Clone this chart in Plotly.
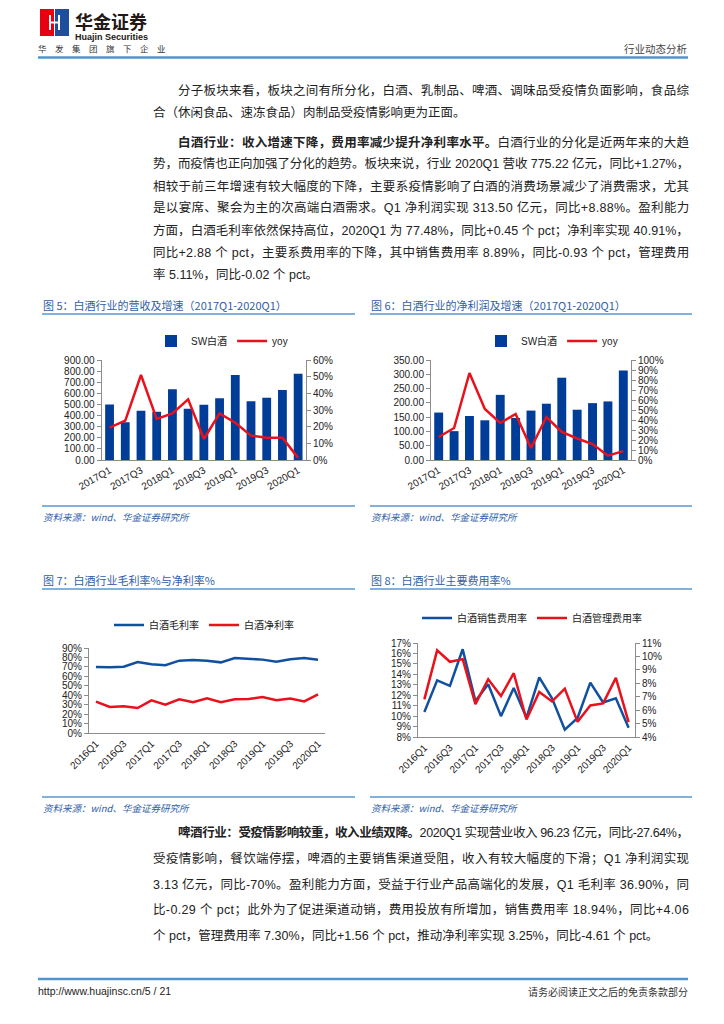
import re
import plotly.graph_objects as go

PAGE_W, PAGE_H = 724, 1024
OFF = 8                      # default body margin of the html page
W, H = PAGE_W - OFF, PAGE_H - OFF

# ---------------- data ----------------
quarters_17_20 = ["2017Q1", "2017Q2", "2017Q3", "2017Q4", "2018Q1", "2018Q2", "2018Q3",
                  "2018Q4", "2019Q1", "2019Q2", "2019Q3", "2019Q4", "2020Q1"]
revenue = [500, 340, 444, 435, 636, 462, 498, 555, 766, 528, 561, 630, 775.22]
revenue_yoy = [19.4, 23.6, 51.0, 24.6, 28.0, 36.4, 12.6, 28.0, 22.4, 14.6, 13.4, 13.4, 1.27]
profit = [166, 101, 154, 139, 228, 147, 173, 197, 288, 176, 199, 205, 313.5]
profit_yoy = [23, 32, 87, 51, 37, 46, 12, 43, 28, 21.5, 16, 4.3, 8.88]

quarters_16_20 = ["2016Q1", "2016Q2", "2016Q3", "2016Q4", "2017Q1", "2017Q2", "2017Q3", "2017Q4",
                  "2018Q1", "2018Q2", "2018Q3", "2018Q4", "2019Q1", "2019Q2", "2019Q3", "2019Q4",
                  "2020Q1"]
gross_margin = [69.9, 69.5, 70.2, 75.2, 72.7, 71.7, 76.6, 77.3, 76.6, 74.8, 79.4, 78.7, 77.7,
                75.5, 78.0, 79.4, 77.48]
net_margin = [33.2, 27.5, 28.2, 26.5, 34.6, 30.0, 35.7, 32.5, 36.7, 32.5, 35.7, 36.0, 38.0,
              34.6, 36.4, 33.5, 40.91]
sales_exp = [10.4, 13.43, 12.9, 16.4, 11.45, 13.05, 10.0, 12.7, 9.85, 13.7, 11.7, 8.7, 9.82,
             13.2, 11.3, 11.7, 8.89]
admin_exp = [6.8, 10.45, 9.6, 9.8, 6.45, 8.3, 7.05, 8.75, 5.3, 7.35, 6.65, 7.6, 5.13,
             6.35, 6.5, 8.4, 5.11]

para1 = [
    "分子板块来看，板块之间有所分化，白酒、乳制品、啤酒、调味品受疫情负面影响，食品综",
    "合（休闲食品、速冻食品）肉制品受疫情影响更为正面。",
]
para2 = [
    "<b>白酒行业：收入增速下降，费用率减少提升净利率水平。</b>白酒行业的分化是近两年来的大趋",
    "势，而疫情也正向加强了分化的趋势。板块来说，行业 2020Q1 营收 775.22 亿元，同比+1.27%，",
    "相较于前三年增速有较大幅度的下降，主要系疫情影响了白酒的消费场景减少了消费需求，尤其",
    "是以宴席、聚会为主的次高端白酒需求。Q1 净利润实现 313.50 亿元，同比+8.88%。盈利能力",
    "方面，白酒毛利率依然保持高位，2020Q1 为 77.48%，同比+0.45 个 pct；净利率实现 40.91%，",
    "同比+2.88 个 pct，主要系费用率的下降，其中销售费用率 8.89%，同比-0.93 个 pct，管理费用",
    "率 5.11%，同比-0.02 个 pct。",
]
para3 = [
    "<b>啤酒行业：受疫情影响较重，收入业绩双降。</b>2020Q1 实现营业收入 96.23 亿元，同比-27.64%，",
    "受疫情影响，餐饮端停摆，啤酒的主要销售渠道受阻，收入有较大幅度的下滑；Q1 净利润实现",
    "3.13 亿元，同比-70%。盈利能力方面，受益于行业产品高端化的发展，Q1 毛利率 36.90%，同",
    "比-0.29 个 pct；此外为了促进渠道动销，费用投放有所增加，销售费用率 18.94%，同比+4.06",
    "个 pct，管理费用率 7.30%，同比+1.56 个 pct，推动净利率实现 3.25%，同比-4.61 个 pct。",
]

titles = ["图 5：白酒行业的营收及增速（2017Q1-2020Q1）", "图 6：白酒行业的净利润及增速（2017Q1-2020Q1）",
          "图 7：白酒行业毛利率%与净利率%", "图 8：白酒行业主要费用率%"]
source = "资料来源：wind、华金证券研究所"

# ---------------- style ----------------
FONT = "Liberation Sans, Arial, Noto Sans CJK SC, sans-serif"
CJK = "Noto Sans CJK SC, Liberation Sans, sans-serif"
BAR = "#003d99"
RED = "#e8111c"
BLUE = "#1150a0"
AX = "#8c8c8c"
TITLE_C = "#2f5ea8"
RULE_C = "#7fb2de"
BODY_SIZE = 12.5


def X(p):
    return (p - OFF) / W


def Y(p):
    return 1 - (p - OFF) / H


fig = go.Figure()

# chart 5
fig.add_trace(go.Bar(x=quarters_17_20, y=revenue, name="SW白酒", marker_color=BAR, width=0.56,
                     xaxis="x", yaxis="y", legend="legend"))
fig.add_trace(go.Scatter(x=quarters_17_20, y=revenue_yoy, name="yoy", mode="lines",
                         line=dict(color=RED, width=2.5), xaxis="x", yaxis="y2", legend="legend"))
# chart 6
fig.add_trace(go.Bar(x=quarters_17_20, y=profit, name="SW白酒", marker_color=BAR, width=0.58,
                     xaxis="x2", yaxis="y3", legend="legend2"))
fig.add_trace(go.Scatter(x=quarters_17_20, y=profit_yoy, name="yoy", mode="lines",
                         line=dict(color=RED, width=2.5), xaxis="x2", yaxis="y4", legend="legend2"))
# chart 7
fig.add_trace(go.Scatter(x=quarters_16_20, y=gross_margin, name="白酒毛利率", mode="lines",
                         line=dict(color=BLUE, width=2.5), xaxis="x3", yaxis="y5", legend="legend3"))
fig.add_trace(go.Scatter(x=quarters_16_20, y=net_margin, name="白酒净利率", mode="lines",
                         line=dict(color=RED, width=2.5), xaxis="x3", yaxis="y5", legend="legend3"))
# chart 8
fig.add_trace(go.Scatter(x=quarters_16_20, y=sales_exp, name="白酒销售费用率", mode="lines",
                         line=dict(color=BLUE, width=2.5), xaxis="x4", yaxis="y6", legend="legend4"))
fig.add_trace(go.Scatter(x=quarters_16_20, y=admin_exp, name="白酒管理费用率", mode="lines",
                         line=dict(color=RED, width=2.5), xaxis="x4", yaxis="y7", legend="legend4"))

tickfont = dict(family=FONT, size=10, color="#222")


def xax(dom, anchor, cats, angle):
    return dict(domain=[X(dom[0]), X(dom[1])], anchor=anchor, type="category",
                categoryorder="array", categoryarray=cats, automargin=False,
                tickvals=cats[::2], tickangle=angle, range=[-0.5, len(cats) - 0.5],
                showline=True, linecolor=AX, linewidth=1, ticks="", showgrid=False,
                zeroline=False, tickfont=tickfont, fixedrange=True)


def yax(dom, anchor, rng, dtick, fmt=None, suffix=None):
    d = dict(anchor=anchor, range=rng, dtick=dtick, showline=True, linecolor=AX, linewidth=1,
             ticks="outside", ticklen=4, tickcolor=AX, showgrid=False, zeroline=False,
             tickfont=tickfont, fixedrange=True, automargin=False)
    if dom is not None:
        d["domain"] = [Y(dom[1]), Y(dom[0])]
    if fmt:
        d["tickformat"] = fmt
    if suffix:
        d["ticksuffix"] = suffix
    return d


def legend(xc, yc):
    return dict(orientation="h", x=X(xc), y=Y(yc), xanchor="center", yanchor="middle",
                font=dict(family=FONT, size=10, color="#222"), bgcolor="rgba(0,0,0,0)",
                itemwidth=30, tracegroupgap=0, traceorder="normal")


y2 = yax(None, "x", [0, 60], 10, suffix="%")
y2.update(overlaying="y", side="right")
y4 = yax(None, "x2", [0, 100], 10, suffix="%")
y4.update(overlaying="y3", side="right")
y7 = yax(None, "x4", [4, 11], 1, suffix="%")
y7.update(overlaying="y6", side="right")

fig.update_layout(
    template="none",
    width=W, height=H, margin=dict(l=0, r=0, t=0, b=0, pad=0, autoexpand=False),
    paper_bgcolor="white", plot_bgcolor="white", bargap=0.4, hovermode=False,
    font=dict(family=FONT, color="#222"),
    xaxis=xax((101.7, 306), "y", quarters_17_20, -30),
    yaxis=yax((360, 460), "x", [0, 900], 100, fmt=".2f"),
    yaxis2=y2,
    xaxis2=xax((431, 631), "y3", quarters_17_20, -30),
    yaxis3=yax((360, 460), "x2", [0, 350], 50, fmt=".2f"),
    yaxis4=y4,
    xaxis3=xax((89, 325), "y5", quarters_16_20, -45),
    yaxis5=yax((648, 733), "x3", [0, 90], 10, suffix="%"),
    xaxis4=xax((418, 635), "y6", quarters_16_20, -45),
    yaxis6=yax((643, 737), "x4", [8, 17], 1, suffix="%"),
    yaxis7=y7,
    legend=legend(222, 341),
    legend2=legend(552, 341),
    legend3=legend(204, 625),
    legend4=legend(532, 618),
)

shapes = []
annotations = []


def text(x, y, s, size=12.8, color="#333", family=CJK, anchor="left", **kw):
    annotations.append(dict(x=X(x), y=Y(y), xref="paper", yref="paper", text=s, showarrow=False,
                            xanchor=anchor, yanchor="middle", borderpad=0, borderwidth=0,
                            font=dict(size=size, color=color, family=family), **kw))


def hline(x0, x1, y, color, width):
    shapes.append(dict(type="line", xref="paper", yref="paper", x0=X(x0), x1=X(x1), y0=Y(y),
                       y1=Y(y), line=dict(color=color, width=width)))


def rect(x0, y0, x1, y1, color):
    shapes.append(dict(type="rect", xref="paper", yref="paper", x0=X(x0), x1=X(x1), y0=Y(y1),
                       y1=Y(y0), line=dict(width=0), fillcolor=color))


# approximate advance widths (em) for Liberation Sans; CJK glyphs are 1em
ASCII_W = {c: 0.556 for c in "0123456789"}
ASCII_W.update({".": 0.278, ",": 0.278, " ": 0.278, "%": 0.889, "Q": 0.778, "p": 0.556,
                "c": 0.5, "t": 0.278, "+": 0.584, "-": 0.333})


def est_width(s, size):
    plain = re.sub(r"<[^>]+>", "", s)
    return sum(ASCII_W.get(ch, 0.556) if ord(ch) < 128 else 1.0 for ch in plain) * size, len(plain)


def justified(line, x_left, x_right, size, justify):
    ls = 0.0
    if justify:
        w, n = est_width(line, size)
        ls = (x_right - x_left - w) / max(n - 1, 1)
    out = []
    for seg in re.split(r"(<b>.*?</b>)", line):
        if not seg:
            continue
        if seg.startswith("<b>"):
            out.append('<span style="font-weight:bold;letter-spacing:%.2fpx">%s</span>'
                       % (ls, seg[3:-4]))
        else:
            out.append('<span style="letter-spacing:%.2fpx">%s</span>' % (ls, seg))
    return "".join(out)


# ---------------- header ----------------
rect(40, 9, 54, 36, "#e60012")
rect(55, 9, 69, 36, "#1d4f9c")
rect(49, 15, 51, 30, "white")
rect(58, 15, 60, 30, "white")
rect(49, 21.5, 60, 23.5, "white")
text(75, 21, "<b>华金证券</b>", size=18, color="#231815")
text(75, 37, "<b>Huajin Securities</b>", size=9, color="#231815", family=FONT)
text(38, 48, "华\u3000发\u3000集\u3000团\u3000旗\u3000下\u3000企\u3000业", size=8.5, color="#333")
text(688, 48, "行业动态分析", size=10.5, color="#444", anchor="right")
hline(38, 688, 57.5, "#4f95d0", 2.5)

# ---------------- body text ----------------
RIGHT = 689
ys1 = [91, 112]
ys2 = [142, 164, 186, 208, 230, 252, 274]
ys3 = [832, 858, 884, 909, 935]
for para, ys in ((para1, ys1), (para2, ys2), (para3, ys3)):
    for i, (line, yy) in enumerate(zip(para, ys)):
        xl = 178 if i == 0 else 153
        last = i == len(para) - 1
        text(xl, yy, justified(line, xl, RIGHT, BODY_SIZE, not last),
             size=BODY_SIZE, color="#222", family=FONT)

# ---------------- chart titles / sources ----------------
for (x0, x1), yt, t in (((42, 355), 305, titles[0]), ((370, 692), 305, titles[1]),
                        ((42, 355), 580, titles[2]), ((370, 692), 580, titles[3])):
    text(x0 + 1, yt, t, size=11, color=TITLE_C)
    hline(x0, x1, yt + 9, RULE_C, 2)
for (x0, x1), yl in (((42, 355), 506), ((370, 692), 506), ((42, 355), 797), ((370, 692), 797)):
    hline(x0, x1, yl, RULE_C, 2)
    text(x0 + 1, yl + 11, "<i>" + source + "</i>", size=9.5, color=TITLE_C)

# ---------------- footer ----------------
hline(38, 688, 979, "#4f95d0", 2.5)
text(38, 991, "http://www.huajinsc.cn/5 / 21", size=10.5, color="#222", family=FONT)
text(688, 991, "请务必阅读正文之后的免责条款部分", size=10, color="#333", anchor="right")

fig.update_layout(shapes=shapes, annotations=annotations)
fig.write_html("out.html")
